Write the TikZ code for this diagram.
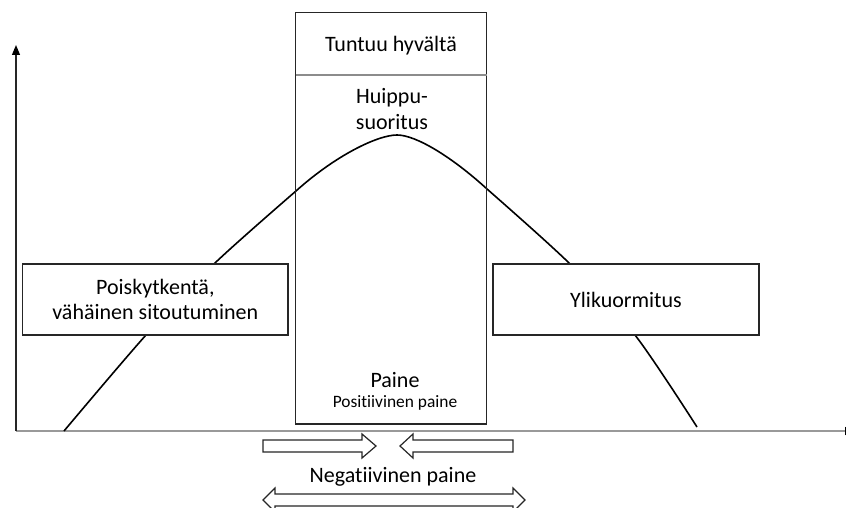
\documentclass[tikz,border=0pt]{standalone}
\usepackage{fontspec}
\setmainfont{Carlito}[Ligatures={NoCommon}]
\usetikzlibrary{arrows.meta}
\begin{document}
\begin{tikzpicture}[x=1pt,y=-1pt,
  boxstyle/.style={draw=black!85,line width=1.5pt,fill=white,inner sep=0pt},
  lbl/.style={font=\fontsize{22}{25.5}\selectfont,align=center,inner sep=0pt},
  smalllbl/.style={font=\fontsize{17.4}{20}\selectfont,align=center,inner sep=0pt},
  blockarrow/.style={draw=black!85,line width=1.2pt,fill=white,line join=miter}]
\useasboundingbox (0,0) rectangle (846,508);
% axes
\coordinate (origin) at (16,431);
\coordinate (ytop) at (16,45);
\coordinate (xend) at (855,431);
\draw[black!40,line width=1.2pt,-{Triangle[length=10pt,width=8pt,color=black]}] (origin) -- (xend);
\draw[black!85,line width=1.2pt,-{Triangle[length=10pt,width=8pt,color=black]}] (origin) -- (ytop);
% curve
\coordinate (cl) at (296,191);
\coordinate (peak) at (397,135);
\coordinate (cr) at (487,189);
\draw[black,line width=1.6pt,line join=round]
  plot[smooth,tension=0.5] coordinates {(64,431) (146,335) (215,263) (296,191)}
  .. controls (336,155) and (378,135) .. (peak)
  .. controls (416,135) and (452,157) .. (cr)
  plot[smooth,tension=0.5] coordinates {(487,189) (569,263) (635,335) (697,427)};
% side boxes
\node[boxstyle,minimum width=265.3pt,minimum height=71pt] (left) at (155.3,299.5) {};
\node[lbl] (lefttext) at (left.center) {Poiskytkentä,\\vähäinen sitoutuminen};
\node[boxstyle,minimum width=266pt,minimum height=71pt] (right) at (626,299.5) {};
\node[lbl] (righttext) at (right.center) {Ylikuormitus};
% center box
\node[draw=black!85,line width=1.5pt,inner sep=0pt,minimum width=191pt,minimum height=411.3pt] (center) at (391.2,218.35) {};
\coordinate (sepl) at (295.7,75);
\coordinate (sepr) at (486.7,75);
\draw[black!45,line width=1.2pt] (sepl) -- (sepr);
\node[lbl] (tuntuu) at (391,46) {Tuntuu hyvältä};
\node[lbl] (huippu) at (392,109) {Huippu-\\suoritus};
\node[lbl] (paine) at (395,380) {Paine};
\node[smalllbl] (pospaine) at (395,403) {Positiivinen paine};
\node[lbl] (negpaine) at (393,477) {Negatiivinen paine};
% block arrows
\draw[blockarrow] (263,440) -- (362,440) -- (362,434) -- (376,446) -- (362,458) -- (362,452) -- (263,452) -- cycle;
\draw[blockarrow] (513,440) -- (413,440) -- (413,434) -- (400,446) -- (413,458) -- (413,452) -- (513,452) -- cycle;
\draw[blockarrow] (275,494) -- (513,494) -- (513,488) -- (525,500) -- (513,512) -- (513,506) -- (275,506) -- (275,512) -- (263,500) -- (275,488) -- cycle;
\end{tikzpicture}
\end{document}
